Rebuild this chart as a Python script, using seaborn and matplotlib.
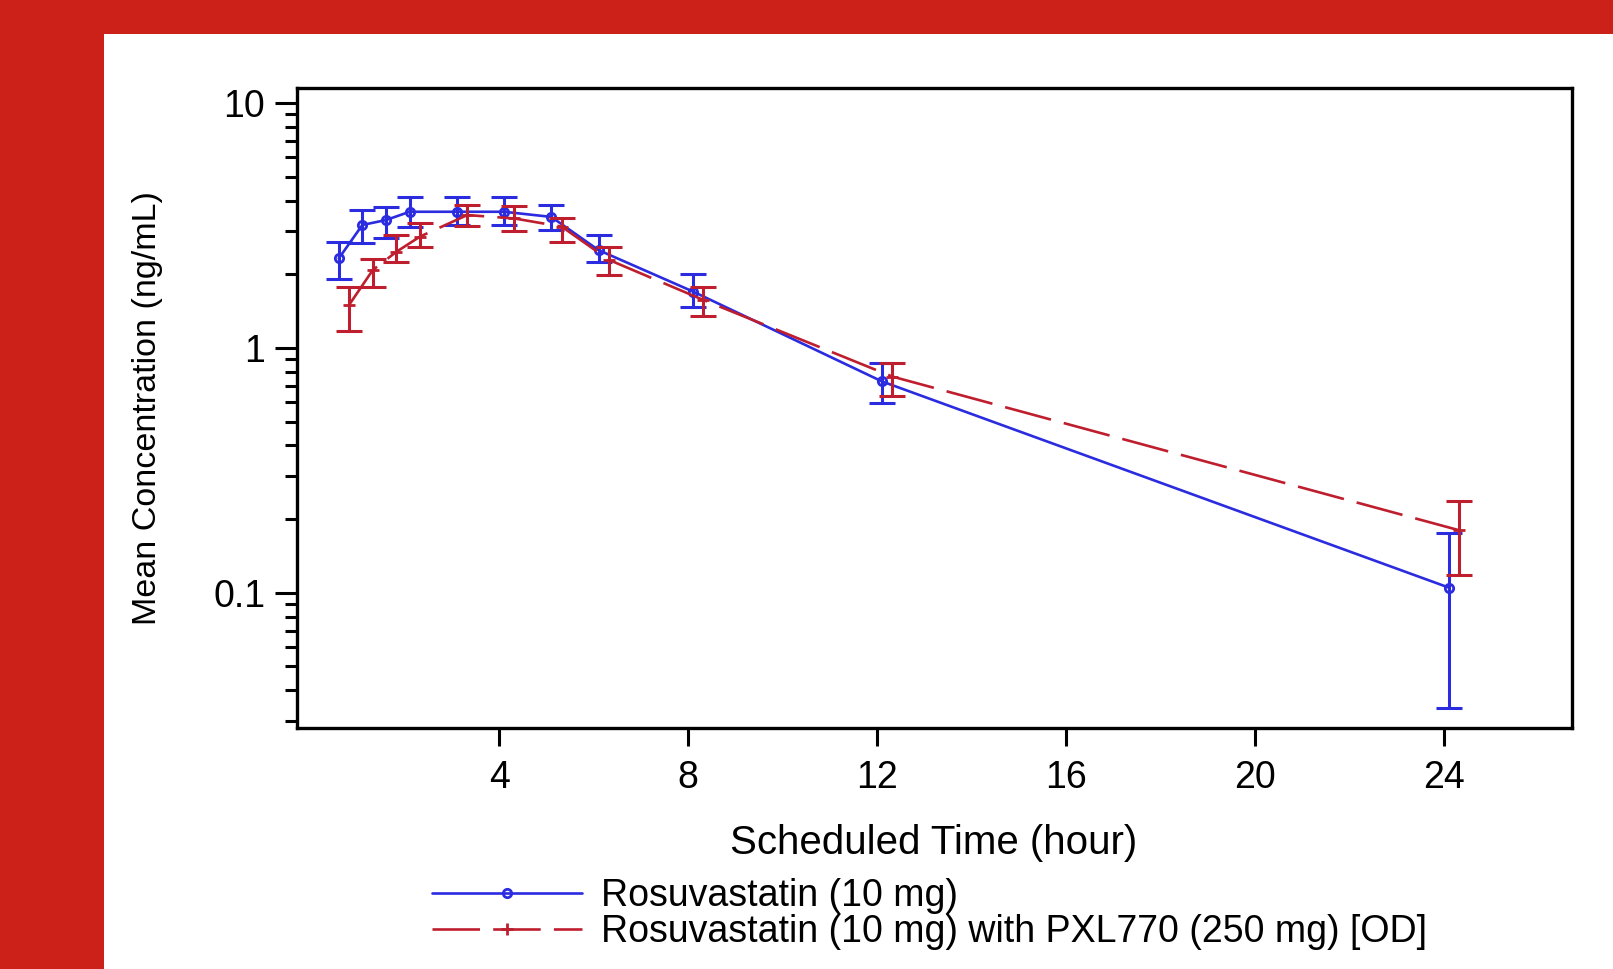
"""
Rosuvastatin mean concentration-time profile (semi-log)
"""

import matplotlib
matplotlib.use('Agg')
import matplotlib.pyplot as plt
import matplotlib.ticker as mticker
from matplotlib.patches import Rectangle
import seaborn as sns
import numpy as np
import pandas as pd

# data
times = [0.5, 1, 1.5, 2, 3, 4, 5, 6, 8, 12, 24]

rosu_mean = [2.32, 3.18, 3.33, 3.60, 3.60, 3.60, 3.43, 2.51, 1.70, 0.73, 0.105]
rosu_lo = [1.92, 2.68, 2.80, 3.13, 3.18, 3.18, 3.03, 2.25, 1.47, 0.594, 0.0338]
rosu_hi = [2.70, 3.66, 3.77, 4.12, 4.12, 4.12, 3.83, 2.89, 2.00, 0.866, 0.175]

pxl_mean = [1.50, 2.08, 2.47, 2.85, 3.49, 3.38, 3.13, 2.29, 1.57, 0.764, 0.18]
pxl_lo = [1.17, 1.78, 2.25, 2.59, 3.16, 3.01, 2.72, 1.99, 1.35, 0.637, 0.118]
pxl_hi = [1.77, 2.31, 2.89, 3.23, 3.83, 3.80, 3.41, 2.59, 1.78, 0.866, 0.236]

labels = ['Rosuvastatin (10 mg)', 'Rosuvastatin (10 mg) with PXL770 (250 mg) [OD]']
x_ticks = [4, 8, 12, 16, 20, 24]
y_ticks = [0.1, 1, 10]
y_ticklabels = ['0.1', '1', '10']

# スタイル
sns.set_style('ticks')
plt.rcParams['font.family'] = ['Liberation Sans', 'DejaVu Sans']
plt.rcParams['text.color'] = 'black'
plt.rcParams['axes.labelcolor'] = 'black'
plt.rcParams['xtick.color'] = 'black'
plt.rcParams['ytick.color'] = 'black'

BLUE = '#2b2be0'
RED = '#be1e2d'
FRAME = '#cc2119'

W, H = 1613, 969
fig = plt.figure(figsize=(W / 100, H / 100), dpi=100, facecolor=FRAME)
fig.patches.append(Rectangle((104 / W, 0), 1, 1 - 34 / H, transform=fig.transFigure,
                             facecolor='white', edgecolor='none', zorder=-1))

ax = fig.add_axes([296.5 / W, 1 - 728.3 / H, (1571.7 - 296.5) / W, (728.3 - 88) / H])
ax.set_facecolor('white')

series = [
    (labels[0], rosu_mean, rosu_lo, rosu_hi, BLUE, '-', 'o', 0.10),
    (labels[1], pxl_mean, pxl_lo, pxl_hi, RED, (0, (18, 5)), '+', 0.32),
]

handles = []
for label, mean, lo, hi, color, ls, mk, dodge in series:
    df = pd.DataFrame({'time': np.array(times) + dodge, 'conc': mean})
    sns.lineplot(data=df, x='time', y='conc', ax=ax, color=color, linestyle=ls,
                 linewidth=1.9, marker=mk, markersize=6 if mk == 'o' else 9,
                 markerfacecolor='none' if mk == 'o' else color,
                 markeredgecolor=color, markeredgewidth=2, label=label,
                 legend=False)
    handles.append(ax.lines[-1])
    yerr = [np.array(mean) - np.array(lo), np.array(hi) - np.array(mean)]
    ax.errorbar(df['time'], df['conc'], yerr=yerr, fmt='none', ecolor=color,
                elinewidth=2.2, capsize=9.5, capthick=2.2)

ax.set_yscale('log')
ax.set_xlim(-0.294, 26.70)
ax.set_ylim(0.02796, 11.53)

ax.xaxis.set_major_locator(mticker.FixedLocator(x_ticks))
ax.xaxis.set_minor_locator(mticker.NullLocator())
ax.yaxis.set_major_locator(mticker.FixedLocator(y_ticks))
ax.yaxis.set_major_formatter(mticker.FixedFormatter(y_ticklabels))
ax.yaxis.set_minor_locator(mticker.LogLocator(base=10, subs=np.arange(2, 10)))
ax.yaxis.set_minor_formatter(mticker.NullFormatter())

ax.tick_params(axis='x', which='major', length=13, width=2.2, pad=10, labelsize=27, direction='out')
ax.tick_params(axis='y', which='major', length=15.5, width=2.2, pad=7, labelsize=27, direction='out')
ax.tick_params(axis='y', which='minor', length=8.6, width=2.2, direction='out')

for sp in ax.spines.values():
    sp.set_linewidth(2.4)
    sp.set_color('black')

ax.set_xlabel('Scheduled Time (hour)', fontsize=29)
ax.xaxis.set_label_coords(0.5, -0.15)
ax.set_ylabel('Mean Concentration (ng/mL)', fontsize=24.5)
ax.yaxis.set_label_coords(-0.105, 0.5)

fig.legend(handles, labels, loc='center left', bbox_to_anchor=(432 / W, 1 - 914.5 / H),
           frameon=False, fontsize=27, handlelength=4.0, handletextpad=0.5,
           labelspacing=0.0, borderpad=0, borderaxespad=0, numpoints=1)

fig.savefig('out.png', dpi=100, facecolor=FRAME)
